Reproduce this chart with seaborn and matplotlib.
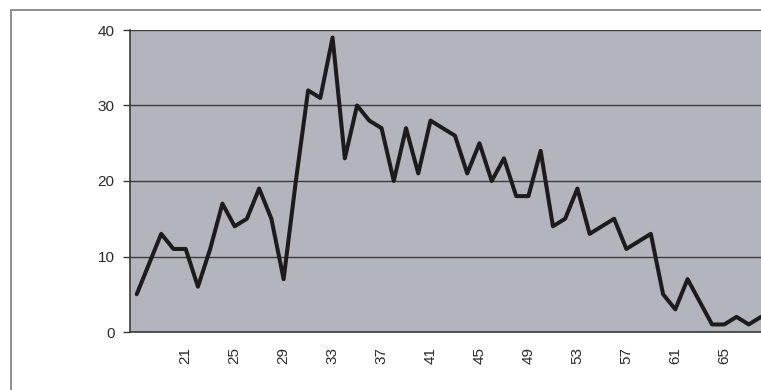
import matplotlib
matplotlib.use("Agg")
import matplotlib.pyplot as plt
from matplotlib.lines import Line2D
from matplotlib.ticker import FixedLocator
import pandas as pd
import seaborn as sns

# Age (years) and number of cases at each age
ages = list(range(17, 69))
counts = [5, 9, 13, 11, 11, 6, 11, 17, 14, 15, 19, 15, 7, 20, 32, 31, 39, 23,
          30, 28, 27, 20, 27, 21, 28, 27, 26, 21, 25, 20, 23, 18, 18, 24, 14, 15,
          19, 13, 14, 15, 11, 12, 13, 5, 3, 7, 4, 1, 1, 2, 1, 2]
x_tick_ages = [21, 25, 29, 33, 37, 41, 45, 49, 53, 57, 61, 65]
y_ticks = [0, 10, 20, 30, 40]

sns.set_theme(style="white")
plt.rcParams['font.family'] = ['Liberation Sans', 'DejaVu Sans']

W, H = 761, 390
fig = plt.figure(figsize=(W / 100, H / 100), dpi=100)
fig.patch.set_facecolor('white')

# outer chart frame
fig.add_artist(Line2D([11 / W, 11 / W], [0, 1 - 10 / H], color='#8e8e8e', lw=1.4))
fig.add_artist(Line2D([11 / W, 1], [1 - 10 / H, 1 - 10 / H], color='#8e8e8e', lw=1.4))

ax = fig.add_axes([130 / W, 58 / H, 1 - 130 / W, 302 / H])
ax.set_facecolor('#b3b5bc')

df = pd.DataFrame({'age': ages, 'count': counts})
sns.lineplot(data=df, x='age', y='count', ax=ax, color='#1c1c1c', lw=2.9,
             solid_joinstyle='round', solid_capstyle='round')

ax.set_xlim(16.45, 68.0)
ax.set_ylim(0, 40)
ax.set_yticks(y_ticks)
ax.set_yticklabels([str(v) for v in y_ticks])
ax.yaxis.grid(True, color='#3c3c3c', lw=1.0)
ax.xaxis.grid(False)
ax.set_axisbelow(True)

ax.set_xticks(x_tick_ages)
ax.set_xticklabels([str(a) for a in x_tick_ages], rotation=90)
ax.xaxis.set_minor_locator(FixedLocator([a - 0.5 for a in ages] + [ages[-1] + 0.5]))
ax.tick_params(axis='x', which='major', length=0, pad=11, labelsize=11, labelcolor='#2a2a2a')
ax.tick_params(axis='x', which='minor', length=4, width=1, color='#3a3a3a', direction='out')
ax.tick_params(axis='y', which='major', length=5, width=1, color='#3a3a3a', direction='out',
               pad=6, labelsize=11, labelcolor='#2a2a2a', left=True)

ax.set_xlabel('')
ax.set_ylabel('')
for side in ['top', 'right']:
    ax.spines[side].set_visible(False)
for side in ['left', 'bottom']:
    ax.spines[side].set_visible(True)
    ax.spines[side].set_color('#3a3a3a')
    ax.spines[side].set_linewidth(1.2)

fig.savefig('out.png', dpi=100)
